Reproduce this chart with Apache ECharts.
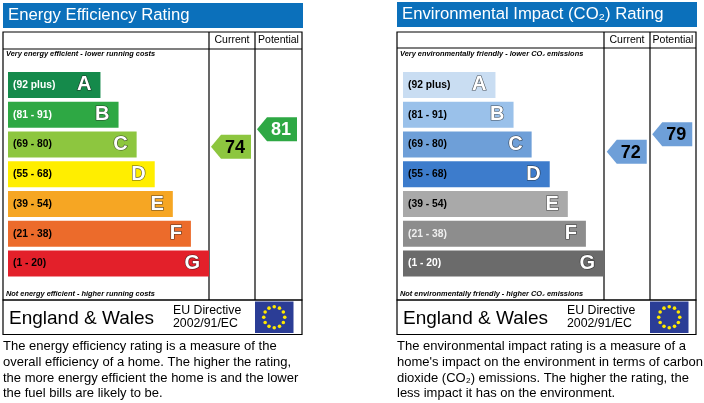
<!DOCTYPE html>
<html>
<head>
<meta charset="utf-8">
<script src="https://cdn.jsdelivr.net/npm/echarts@6/dist/echarts.min.js"></script>
<style>
  html, body { margin: 0; padding: 0; background: #fff; }
  #chart { width: 704px; height: 403px; }
</style>
</head>
<body>
<div id="chart"></div>
<script>
// band letters, score ranges and relative bar lengths
const bands = ['A', 'B', 'C', 'D', 'E', 'F', 'G'];
const ranges = ['(92 plus)', '(81 - 91)', '(69 - 80)', '(55 - 68)', '(39 - 54)', '(21 - 38)', '(1 - 20)'];
const bandMin = [92, 81, 69, 55, 39, 21, 1];
const barLength = [46, 55, 64, 73, 82, 91, 100];

const ratingColumns = ['Current', 'Potential'];
const eeRatings = [74, 81];
const eiRatings = [72, 79];

// palettes
const eeColors = ['#158a4b', '#2ea844', '#8dc63f', '#ffee00', '#f6a623', '#ec6b2b', '#e3202a'];
const eeText = ['#fff', '#fff', '#000', '#000', '#000', '#000', '#000'];
const eiColors = ['#c9ddf2', '#9ac1ea', '#6e9fd8', '#3d7ccc', '#a9a9a9', '#8d8d8d', '#6b6b6b'];
const eiText = ['#000', '#000', '#000', '#000', '#000', '#eee', '#fff'];

const FONT = "'Liberation Sans', Arial, sans-serif";
const ARROW = 'path://M0,12 L10,0 L40,0 L40,24 L10,24 Z';

function bandOf(v) {
    return bandMin.findIndex(m => v >= m);
}

function barSeries(axis, colors, textColors) {
    return [{
        type: 'bar',
        xAxisIndex: axis,
        yAxisIndex: axis,
        barWidth: 26,
        barGap: '-100%',
        silent: true,
        data: barLength.map((v, i) => ({
            value: v,
            itemStyle: {color: colors[i]},
            label: {color: textColors[i]},
        })),
        label: {
            show: true,
            position: 'insideLeft',
            distance: 5,
            formatter: p => ranges[p.dataIndex],
            fontFamily: FONT,
            fontWeight: 'bold',
            fontSize: 10.3,
        },
    }, {
        type: 'bar',
        xAxisIndex: axis,
        yAxisIndex: axis,
        barWidth: 26,
        barGap: '-100%',
        silent: true,
        itemStyle: {color: 'transparent'},
        data: barLength,
        label: {
            show: true,
            position: 'insideRight',
            distance: 9,
            formatter: p => bands[p.dataIndex],
            fontFamily: FONT,
            fontWeight: 'bold',
            fontSize: 20,
            color: '#fff',
            textBorderColor: 'rgba(30,30,30,0.75)',
            textBorderWidth: 1.2,
        },
    }];
}

function arrowSeries(axis, ratings, colors, textColors) {
    return {
        type: 'scatter',
        xAxisIndex: axis,
        yAxisIndex: axis,
        symbol: ARROW,
        symbolSize: [40, 24],
        silent: true,
        data: ratings.map((v, i) => ({
            value: [i, v],
            itemStyle: {color: colors[bandOf(v)], opacity: 1},
            label: {color: textColors[bandOf(v)]},
        })),
        label: {
            show: true,
            position: 'inside',
            offset: [4, 1],
            formatter: p => p.value[1],
            fontFamily: FONT,
            fontWeight: 'bold',
            fontSize: 18,
        },
    };
}

function text(x, y, str, size, extra) {
    return {
        type: 'text',
        style: Object.assign({
            x, y, text: str, fontFamily: FONT, fontSize: size, fill: '#000',
            verticalAlign: 'middle', align: 'left',
        }, extra || {}),
    };
}

function line(x1, y1, x2, y2) {
    return {type: 'line', shape: {x1, y1, x2, y2}, style: {stroke: '#000', lineWidth: 1.2}};
}

function flag(x, y, w, h) {
    const els = [{type: 'rect', shape: {x, y, width: w, height: h}, style: {fill: '#2b3d96'}}];
    const cx = x + w / 2, cy = y + h / 2;
    for (let k = 0; k < 12; k++) {
        const a = k * Math.PI / 6;
        els.push({type: 'circle', shape: {cx: cx + 10.5 * Math.cos(a), cy: cy + 10.5 * Math.sin(a), r: 1.8},
            style: {fill: '#ffe800'}});
    }
    return els;
}

function panel(p) {
    const els = [
        {type: 'rect', shape: {x: p.x0, y: p.yTitle, width: 300, height: 25}, style: {fill: '#0b70bb'}},
        text(p.x0 + 5, p.yTitle + 12.5, p.title, 16.7, {fill: '#fff'}),
        {type: 'rect', shape: {x: p.x0, y: 32, width: p.x1 - p.x0, height: 300 - 32},
            style: {fill: 'none', stroke: '#000', lineWidth: 1.2}},
        {type: 'rect', shape: {x: p.x0, y: 300, width: p.x1 - p.x0, height: 34.5},
            style: {fill: 'none', stroke: '#000', lineWidth: 1.2}},
        line(p.x0, p.yHead, p.x1, p.yHead),
        line(p.c1, 32, p.c1, 300),
        line(p.c2, 32, p.c2, 300),
        text((p.c1 + p.c2) / 2, 40.5, ratingColumns[0], 10.5, {align: 'center'}),
        text((p.c2 + p.x1) / 2, 40.5, ratingColumns[1], 10.5, {align: 'center'}),
        text(p.x0 + 3, 53.5, p.top, 7.4, {fontStyle: 'italic', fontWeight: 'bold'}),
        text(p.x0 + 3, 293.5, p.bottom, 7.4, {fontStyle: 'italic', fontWeight: 'bold'}),
        text(p.x0 + 6, 318.5, 'England & Wales', 19),
        text(p.x0 + 170, 310.5, 'EU Directive', 12.3),
        text(p.x0 + 170, 324, '2002/91/EC', 12.3),
        text(p.x0, 338.5, p.desc.join('\n'), 13, {verticalAlign: 'top', lineHeight: 15.8}),
    ];
    return els.concat(flag(p.c2, 301.5, 38.5, 31.5));
}

const chart = echarts.init(document.getElementById('chart'), null, {renderer: 'canvas'});

chart.setOption({
    animation: false,
    backgroundColor: '#fff',
    grid: [
        {left: 8, top: 70, width: 201, height: 208.5},
        {left: 208, top: 81.7, width: 92, height: 250},
        {left: 403, top: 70, width: 201, height: 208.5},
        {left: 604, top: 81.7, width: 91, height: 250},
    ],
    xAxis: [
        {gridIndex: 0, type: 'value', min: 0, max: 100, show: false},
        {gridIndex: 1, type: 'category', data: ratingColumns, show: false},
        {gridIndex: 2, type: 'value', min: 0, max: 100, show: false},
        {gridIndex: 3, type: 'category', data: ratingColumns, show: false},
    ],
    yAxis: [
        {gridIndex: 0, type: 'category', data: bands, inverse: true, show: false},
        {gridIndex: 1, type: 'value', min: 0, max: 100, show: false},
        {gridIndex: 2, type: 'category', data: bands, inverse: true, show: false},
        {gridIndex: 3, type: 'value', min: 0, max: 100, show: false},
    ],
    graphic: panel({
        x0: 3, x1: 302, c1: 209, c2: 255, yTitle: 3, yHead: 49,
        title: 'Energy Efficiency Rating',
        top: 'Very energy efficient - lower running costs',
        bottom: 'Not energy efficient - higher running costs',
        desc: [
            'The energy efficiency rating is a measure of the',
            'overall efficiency of a home. The higher the rating,',
            'the more energy efficient the home is and the lower',
            'the fuel bills are likely to be.',
        ],
    }).concat(panel({
        x0: 397, x1: 696, c1: 604, c2: 650, yTitle: 2, yHead: 48,
        title: 'Environmental Impact (CO₂) Rating',
        top: 'Very environmentally friendly - lower CO₂ emissions',
        bottom: 'Not environmentally friendly - higher CO₂ emissions',
        desc: [
            'The environmental impact rating is a measure of a',
            'home\'s impact on the environment in terms of carbon',
            'dioxide (CO₂) emissions. The higher the rating, the',
            'less impact it has on the environment.',
        ],
    })),
    series: [
        ...barSeries(0, eeColors, eeText),
        arrowSeries(1, eeRatings, eeColors, eeText),
        ...barSeries(2, eiColors, eiText),
        arrowSeries(3, eiRatings, eiColors, eiText),
    ],
});
</script>
</body>
</html>
